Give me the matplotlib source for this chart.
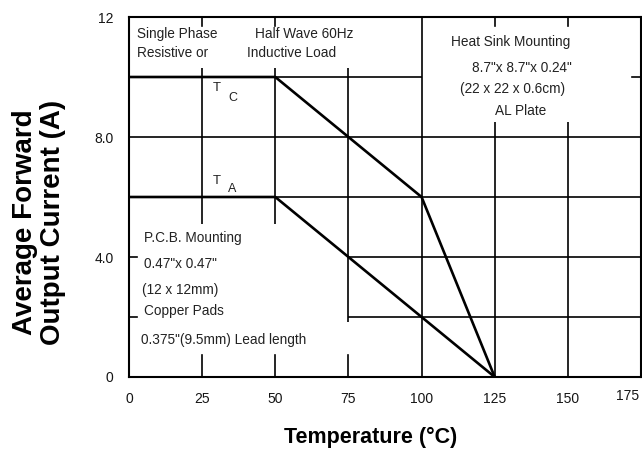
import numpy as np
import matplotlib.pyplot as plt
import matplotlib.transforms as mtransforms

plt.rcParams['font.family'] = ['Liberation Sans', 'DejaVu Sans']

# derating curves (temperature in C, current in A)
tc_temp = [0, 50, 100, 125]
tc_curr = [10, 10, 6, 0]
ta_temp = [0, 50, 100, 125]
ta_curr = [6, 6, 2, 0]

x_ticks = [0, 25, 50, 75, 100, 125, 150, 175]
y_ticks = [0, 4, 8, 12]
y_tick_labels = ['0', '4.0', '8.0', '12']

# partial grid, broken where the note boxes sit
h_lines = [(10, 0, 100), (8, 0, 175), (6, 0, 175), (4, 75, 175), (2, 75, 175)]
v_lines = [(25, 5.1, 10.3), (50, 5.1, 10.3), (75, 1.85, 10.3), (100, 0, 12),
           (125, 0, 8.5), (150, 0, 8.5)]
top_ticks = [25, 50, 125, 150]
bottom_ticks = [25, 50, 75]

fig = plt.figure(figsize=(6.42, 4.53), dpi=100)
ax = fig.add_axes([129 / 642, 1 - 377 / 453, 512 / 642, 360 / 453])
ax.set_xlim(0, 175)
ax.set_ylim(0, 12)

lc = 'black'
for y, x0, x1 in h_lines:
    ax.plot([x0, x1], [y, y], color=lc, lw=1.2, solid_capstyle='butt')
for x, y0, y1 in v_lines:
    ax.plot([x, x], [y0, y1], color=lc, lw=1.2, solid_capstyle='butt')
for x in top_ticks:
    ax.plot([x, x], [12, 11.7], color=lc, lw=1.2)
for x in bottom_ticks:
    ax.plot([x, x], [0, 0.75], color=lc, lw=1.2)
for y in [2, 4]:
    ax.plot([0, 2.7], [y, y], color=lc, lw=1.2)
ax.plot([175, 172], [10, 10], color=lc, lw=1.2)

ax.plot(tc_temp, tc_curr, color=lc, lw=1.9)
ax.plot(ta_temp, ta_curr, color=lc, lw=1.9)

for s in ax.spines.values():
    s.set_linewidth(1.5)

ax.set_xticks(x_ticks)
ax.set_xticklabels([str(v) for v in x_ticks])
ax.set_yticks(y_ticks)
ax.set_yticklabels(y_tick_labels)
ax.tick_params(length=0, labelsize=10, colors='#151515')
ax.tick_params(axis='x', pad=11)
ax.tick_params(axis='y', pad=11)
last = ax.get_xticklabels()[-1]
last.set_transform(last.get_transform() +
                   mtransforms.ScaledTranslation(-13 / 100, 3 / 100, fig.dpi_scale_trans))

fs = 9.8
tcol = '#222222'
ax.text(2.7, 11.43, 'Single Phase', fontsize=fs, color=tcol, va='center')
ax.text(2.7, 10.8, 'Resistive or', fontsize=fs, color=tcol, va='center')
ax.text(43.1, 11.43, 'Half Wave 60Hz', fontsize=fs, color=tcol, va='center')
ax.text(40.3, 10.8, 'Inductive Load', fontsize=fs, color=tcol, va='center')

ax.text(28.7, 9.63, 'T', fontsize=9.5, color=tcol, va='center')
ax.text(33.8, 9.3, 'C', fontsize=9, color=tcol, va='center')
ax.text(28.7, 6.53, 'T', fontsize=9.5, color=tcol, va='center')
ax.text(33.8, 6.27, 'A', fontsize=9, color=tcol, va='center')

ax.text(110, 11.17, 'Heat Sink Mounting', fontsize=fs, color=tcol, va='center')
ax.text(117.2, 10.3, '8.7"x 8.7"x 0.24"', fontsize=fs, color=tcol, va='center')
ax.text(113.1, 9.6, '(22 x 22 x 0.6cm)', fontsize=fs, color=tcol, va='center')
ax.text(125.1, 8.87, 'AL Plate', fontsize=fs, color=tcol, va='center')

ax.text(5.1, 4.63, 'P.C.B. Mounting', fontsize=fs, color=tcol, va='center')
ax.text(5.1, 3.77, '0.47"x 0.47"', fontsize=fs, color=tcol, va='center')
ax.text(4.4, 2.9, '(12 x 12mm)', fontsize=fs, color=tcol, va='center')
ax.text(5.1, 2.2, 'Copper Pads', fontsize=fs, color=tcol, va='center')
ax.text(4.1, 1.23, '0.375"(9.5mm) Lead length', fontsize=fs, color=tcol, va='center')

fig.text(371 / 642, 1 - 437 / 453, 'Temperature (°C)', fontsize=15.5,
         fontweight='bold', ha='center', va='center')
fig.text(39 / 642, 1 - 222 / 453, 'Average Forward\nOutput Current (A)',
         fontsize=20, fontweight='bold', ha='center', va='center',
         rotation=90, linespacing=1.05)

fig.savefig('out.png', dpi=100)
